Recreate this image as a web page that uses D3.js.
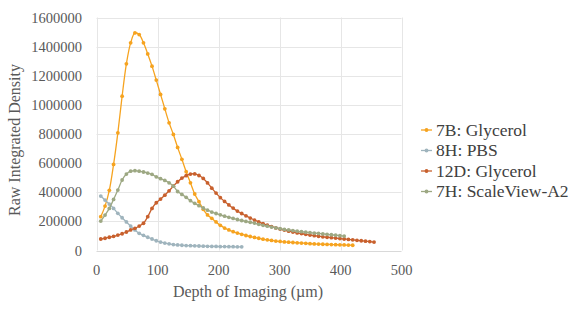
<!DOCTYPE html>
<html>
<head>
<meta charset="utf-8">
<script src="https://cdn.jsdelivr.net/npm/d3@7"></script>
</head>
<body style="margin:0">
<div class="t"></div>
<script>
// depth of imaging (um), one value per optical section
var depths=[7,14,21,28,35,42,49,56,63,70,77,84,91,98,105,112,119,126,133,140,
  147,154,161,168,175,182,189,196,203,210,217,224,231,238,245,252,259,266,273,280,
  287,294,301,308,315,322,329,336,343,350,357,364,371,378,385,392,399,406,413,420,
  427,434,441,448,455];

// raw integrated density, in thousands
var glycerol7B=[232,305,413,591,808,1060,1282,1426,1494,1483,1426,1350,1266,1170,1072,973,877,797,708,626,
  541,465,388,335,283,244,221,196,173,154,141,129,120,111,103,96,90,84,78,73,
  69,65,62,59,57,55,53,51,49,47,45,44,43,42,41,40,39,38,37,36];
var pbs8H=[374,346,319,289,255,225,196,168,141,118,104,91,79,67,58,51,46,41,38,36,
  34,33,32,31,30,29,28,28,27,27,26,26,25,25];
var glycerol12D=[79,84,91,97,106,115,127,141,152,168,187,232,289,328,353,380,410,442,472,497,
  514,525,526,515,495,464,428,394,363,337,313,291,271,254,238,223,209,196,185,174,
  164,155,147,140,133,127,121,116,111,106,102,98,94,91,88,85,82,79,76,73,
  70,67,64,61,58];
var scaleView7H=[202,243,289,351,415,484,525,545,548,545,539,532,523,506,493,481,465,442,405,385,
  365,342,324,308,292,277,264,254,245,236,228,220,213,206,200,194,188,180,173,167,
  161,155,150,145,141,137,133,129,126,123,120,117,114,111,108,105,102,99];

var seriesNames=["7B: Glycerol","8H: PBS","12D: Glycerol","7H: ScaleView-A2"];
var seriesValues=[glycerol7B,pbs8H,glycerol12D,scaleView7H];
var colors=["#f6a31f","#9fb4bd","#c8602d","#9da883"];

var xTicks=[0,100,200,300,400,500];
var yTicks=[0,200000,400000,600000,800000,1000000,1200000,1400000,1600000];

var W=581, H=309;
var plotL=96.5, plotR=401.5, plotT=17.5, plotB=250.5;

var svg=d3.select(".t").append("svg")
  .attr("width", W)
  .attr("height", H);

var x=d3.scaleLinear().domain([0,500]).range([plotL,plotR]);
var y=d3.scaleLinear().domain([0,1600000]).range([plotB,plotT]);

// gridlines
svg.append("g").selectAll("line")
  .data(yTicks)
  .enter().append("line")
  .attr("x1", plotL).attr("x2", plotR)
  .attr("y1", function(d){return Math.round(y(d))+0.5})
  .attr("y2", function(d){return Math.round(y(d))+0.5})
  .attr("stroke", function(d){return d==0 ? "#d9d9d9" : "#e6e6e6"})
  .attr("stroke-width", 1);

svg.append("g").selectAll("line")
  .data(xTicks)
  .enter().append("line")
  .attr("y1", plotT).attr("y2", plotB)
  .attr("x1", function(d){return Math.round(x(d))+0.5})
  .attr("x2", function(d){return Math.round(x(d))+0.5})
  .attr("stroke", "#e6e6e6")
  .attr("stroke-width", 1);

// tick labels
svg.append("g").selectAll("text")
  .data(yTicks)
  .enter().append("text")
  .attr("x", 82)
  .attr("y", function(d){return y(d)+5})
  .attr("text-anchor", "end")
  .attr("font-size", "14.5px")
  .attr("fill", "#595959")
  .text(function(d){return d});

svg.append("g").selectAll("text")
  .data(xTicks)
  .enter().append("text")
  .attr("x", function(d){return x(d)})
  .attr("y", 275)
  .attr("text-anchor", "middle")
  .attr("font-size", "14.5px")
  .attr("fill", "#595959")
  .text(function(d){return d});

// axis titles
svg.append("text")
  .attr("x", 248)
  .attr("y", 297)
  .attr("text-anchor", "middle")
  .attr("font-size", "16px")
  .attr("fill", "#595959")
  .text("Depth of Imaging (\u00b5m)");

svg.append("text")
  .attr("transform", "translate(20,140) rotate(-90)")
  .attr("text-anchor", "middle")
  .attr("font-size", "16px")
  .attr("fill", "#595959")
  .text("Raw Integrated Density");

// series
var line=d3.line()
  .x(function(d){return x(d[0])})
  .y(function(d){return y(d[1])})
  .curve(d3.curveCatmullRom);

var groups=svg.selectAll(".series")
  .data(seriesValues)
  .enter()
  .append("g")
  .attr("class", "series");

groups.append("path")
  .attr("d", function(vals){
    return line(vals.map(function(v,i){return [depths[i], v*1000]}));
  })
  .attr("fill", "none")
  .attr("stroke", function(d,i){return colors[i]})
  .attr("stroke-width", 1.3);

groups.each(function(vals,k){
  d3.select(this).selectAll("circle")
    .data(vals)
    .enter().append("circle")
    .attr("cx", function(v,i){return x(depths[i])})
    .attr("cy", function(v){return y(v*1000)})
    .attr("r", 1.9)
    .attr("fill", colors[k]);
});

// legend
var legend=svg.append("g")
  .attr("transform", "translate(421,130)");

var items=legend.selectAll("g")
  .data(seriesNames)
  .enter().append("g")
  .attr("transform", function(d,i){return "translate(0,"+(i*20.5)+")"});

items.append("line")
  .attr("x1", 0).attr("x2", 11)
  .attr("y1", 0).attr("y2", 0)
  .attr("stroke", function(d,i){return colors[i]})
  .attr("stroke-width", 1.3);

items.append("circle")
  .attr("cx", 5.5).attr("cy", 0).attr("r", 1.9)
  .attr("fill", function(d,i){return colors[i]});

items.append("text")
  .attr("x", 15)
  .attr("y", 5.5)
  .attr("font-size", "17.5px")
  .attr("fill", "#404040")
  .text(function(d){return d});

svg.selectAll("text")
  .style("font-family", function(){return "'Times New Roman'"});
</script>
</body>
</html>
